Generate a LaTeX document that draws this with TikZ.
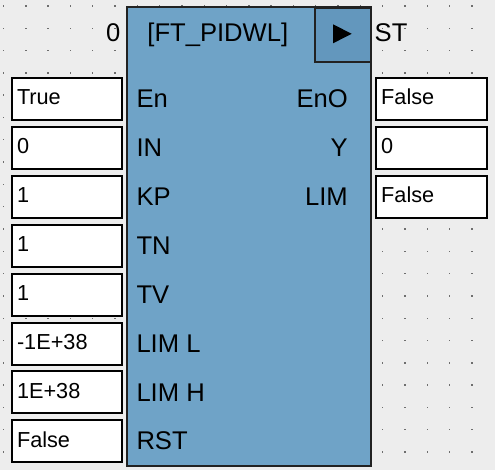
\documentclass[tikz,border=0pt]{standalone}
\usepackage{fontspec}
\setmainfont{Liberation Sans}
\definecolor{bgc}{RGB}{237,237,237}
\definecolor{blockc}{RGB}{111,163,199}
\definecolor{headc}{RGB}{99,151,189}
\definecolor{edgec}{RGB}{34,34,34}
\definecolor{dotc}{RGB}{110,110,110}
\tikzset{
  valbox/.style={draw=black, line width=2pt, fill=white, minimum width=110pt, minimum height=42pt, inner sep=0pt, anchor=north west},
  valtext/.style={inner sep=0pt, anchor=base west, font=\fontsize{21.7}{26}\selectfont},
  lbl/.style={inner sep=0pt, font=\fontsize{25.6}{30}\selectfont},
  fbblock/.style={draw=edgec, line width=2pt, fill=blockc, inner sep=0pt, anchor=north west},
  fbhead/.style={draw=edgec, line width=2pt, fill=headc, inner sep=0pt, anchor=north west},
}
\begin{document}
\begin{tikzpicture}[x=1pt,y=-1pt]
\fill[bgc] (0,0) rectangle (495,470);
\useasboundingbox (0,0) rectangle (495,470);
% grid dots
\foreach \i in {0,...,21}{
  \foreach \j in {0,...,20}{
    \fill[dotc] ({3.5+22.3*\i-0.7},{6+22.3*\j-0.7}) rectangle ++(1.4,1.4);
  }
}
% block
\node[fbblock, minimum width=244pt, minimum height=459pt] (blk) at (126,6) {};
\node[fbhead, minimum width=55.7pt, minimum height=54.6pt] (hd) at (314.3,6.7) {};
\fill[black] (333,24.3) -- (333,43.3) -- (351.7,33.8) -- cycle;
% header texts
\node[lbl, anchor=base east] (num) at (120.5,42) {0};
\node[lbl, anchor=base] (title) at (217.8,42) {[FT\_PIDWL]};
\node[lbl, anchor=base west] (st) at (374.5,42) {ST};
% input boxes and labels
\foreach \k/\v/\l in {0/True/En,1/0/IN,2/1/KP,3/1/TN,4/1/TV,5/-1E+38/LIM L,6/1E+38/LIM H,7/False/RST}{
  \node[valbox] (in\k) at (11,{77+48.9*\k}) {};
  \node[valtext] (inv\k) at (16.8,{105+48.9*\k}) {\v};
  \node[lbl, anchor=base west] (inl\k) at (136.3,{107.3+48.95*\k}) {\l};
}
% output boxes and labels
\foreach \k/\v/\l in {0/False/EnO,1/0/Y,2/False/LIM}{
  \node[valbox, minimum width=111pt] (out\k) at (375,{77+48.9*\k}) {};
  \node[valtext] (outv\k) at (381,{105+48.9*\k}) {\v};
  \node[lbl, anchor=base east] (outl\k) at (348,{107.3+48.95*\k}) {\l};
}
\end{tikzpicture}
\end{document}
